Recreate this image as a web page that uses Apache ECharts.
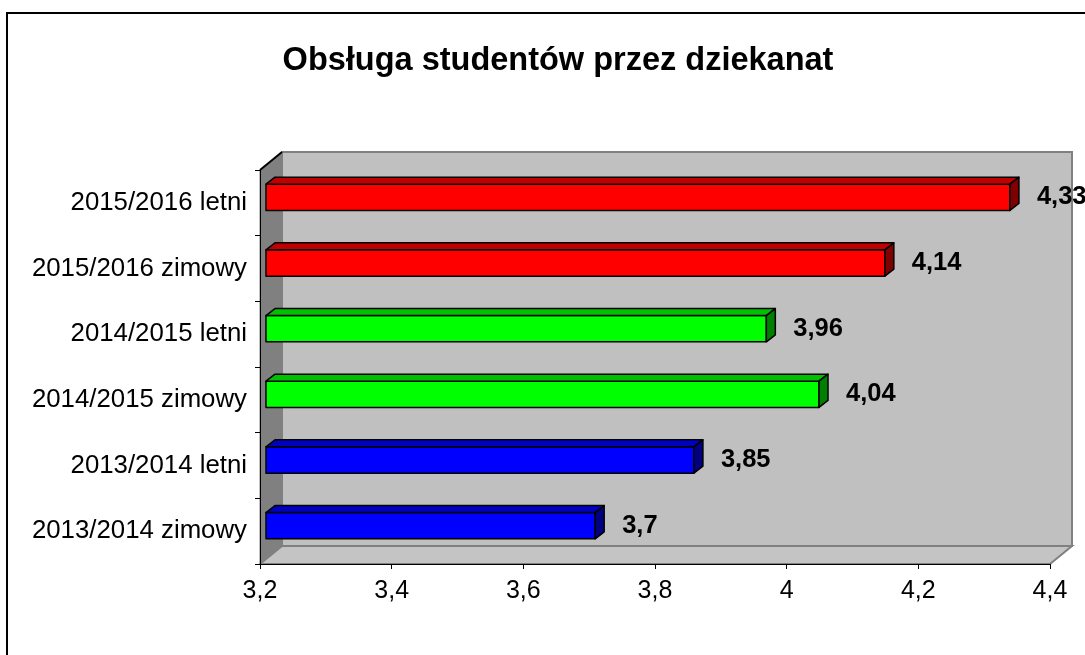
<!DOCTYPE html>
<html>
<head>
<meta charset="utf-8">
<script src="https://cdn.jsdelivr.net/npm/echarts@6/dist/echarts.min.js"></script>
<style>
html,body{margin:0;padding:0;background:#fff;}
#main{width:1085px;height:655px;}
</style>
</head>
<body>
<div id="main"></div>
<script>
// dane wykresu
var categories = ['2013/2014 zimowy', '2013/2014 letni', '2014/2015 zimowy', '2014/2015 letni', '2015/2016 zimowy', '2015/2016 letni'];
var values = [3.7, 3.85, 4.04, 3.96, 4.14, 4.33];
var xTicks = [3.2, 3.4, 3.6, 3.8, 4, 4.2, 4.4];

// kolory słupków (przód, góra, bok)
var faces = [
	['#0000ff', '#0000c0', '#000080'],
	['#0000ff', '#0000c0', '#000080'],
	['#00ff00', '#00c000', '#008000'],
	['#00ff00', '#00c000', '#008000'],
	['#ff0000', '#c00000', '#800000'],
	['#ff0000', '#c00000', '#800000']
];

var FONT = "'Liberation Sans', Arial, sans-serif";
var DX = 22, DY = -18;   // głębokość ścian 3D
var xMin = xTicks[0], xMax = xTicks[xTicks.length - 1];

function fmt(v) {
	return String(+v.toFixed(2)).replace('.', ',');
}

var chart = echarts.init(document.getElementById('main'));

var option = {
	animation: false,
	title: {
		text: 'Obsługa studentów przez dziekanat',
		left: 553,
		top: 40,
		textAlign: 'center',
		textStyle: {color: '#000', fontSize: 32.5, fontWeight: 'bold', fontFamily: FONT}
	},
	grid: {left: 260, right: 35, top: 170, bottom: 91},
	xAxis: {
		type: 'value',
		min: xMin,
		max: xMax,
		interval: 0.2,
		z: 10,
		axisLine: {show: true, lineStyle: {color: '#000', width: 1}},
		axisTick: {show: true, length: 5, lineStyle: {color: '#000'}},
		splitLine: {show: false},
		axisLabel: {
			margin: 15,
			color: '#000',
			fontSize: 25,
			fontFamily: FONT,
			formatter: function (v) { return fmt(v); }
		}
	},
	yAxis: {
		type: 'category',
		data: categories,
		z: 10,
		axisLine: {show: true, lineStyle: {color: '#000', width: 1}},
		axisTick: {show: true, length: 5, lineStyle: {color: '#000'}},
		axisLabel: {margin: 13, color: '#000', fontSize: 25.8, fontFamily: FONT}
	},
	graphic: [{
		type: 'rect',
		shape: {x: 7, y: 13, width: 1200, height: 800},
		style: {fill: 'none', stroke: '#000', lineWidth: 2},
		silent: true
	}],
	series: [
		{
			// ściany i podłoga
			type: 'custom',
			z: 1,
			data: [[xMin, 0]],
			renderItem: function (params, api) {
				var r = params.coordSys;
				var x = r.x, y = r.y, w = r.width, h = r.height;
				return {
					type: 'group',
					children: [
						{type: 'rect', shape: {x: x + DX, y: y + DY, width: w, height: h},
							style: {fill: '#c0c0c0', stroke: '#808080', lineWidth: 2}},
						{type: 'polygon', shape: {points: [[x, y], [x + DX, y + DY], [x + DX, y + h + DY], [x, y + h]]},
							style: {fill: '#808080', stroke: '#808080', lineWidth: 1}},
						{type: 'polygon', shape: {points: [[x, y + h], [x + DX, y + h + DY], [x + w + DX, y + h + DY], [x + w, y + h]]},
							style: {fill: '#c4c4c4', stroke: '#808080', lineWidth: 2}},
						{type: 'line', shape: {x1: x, y1: y, x2: x + DX, y2: y + DY},
							style: {stroke: '#000', lineWidth: 2}}
					]
				};
			}
		},
		{
			// słupki 3D
			type: 'custom',
			z: 3,
			data: values.map(function (v, i) { return [v, i]; }),
			encode: {x: 0, y: 1},
			renderItem: function (params, api) {
				var v = api.value(0), i = api.value(1);
				var start = api.coord([xMin, i]);
				var end = api.coord([v, i]);
				var band = api.size([0, 1])[1];
				var bh = band * 0.4;
				var ox = 6, oy = -5.5, dx = 9, dy = -7;
				var x0 = start[0] + ox, x1 = end[0] + ox;
				var yt = end[1] + oy - bh / 2, yb = yt + bh;
				var c = faces[i];
				var st = {stroke: '#000', lineWidth: 1.5, lineJoin: 'round'};
				return {
					type: 'group',
					children: [
						{type: 'rect', shape: {x: x0, y: yt, width: x1 - x0, height: bh},
							style: Object.assign({fill: c[0]}, st)},
						{type: 'polygon', shape: {points: [[x0, yt], [x0 + dx, yt + dy], [x1 + dx, yt + dy], [x1, yt]]},
							style: Object.assign({fill: c[1]}, st)},
						{type: 'polygon', shape: {points: [[x1, yt], [x1 + dx, yt + dy], [x1 + dx, yb + dy], [x1, yb]]},
							style: Object.assign({fill: c[2]}, st)},
						{type: 'text', style: {
							text: fmt(v), x: x1 + 27, y: end[1] + oy,
							verticalAlign: 'middle', align: 'left',
							font: 'bold 25.5px ' + FONT, fill: '#000'
						}}
					]
				};
			}
		}
	]
};

chart.setOption(option);
</script>
</body>
</html>
